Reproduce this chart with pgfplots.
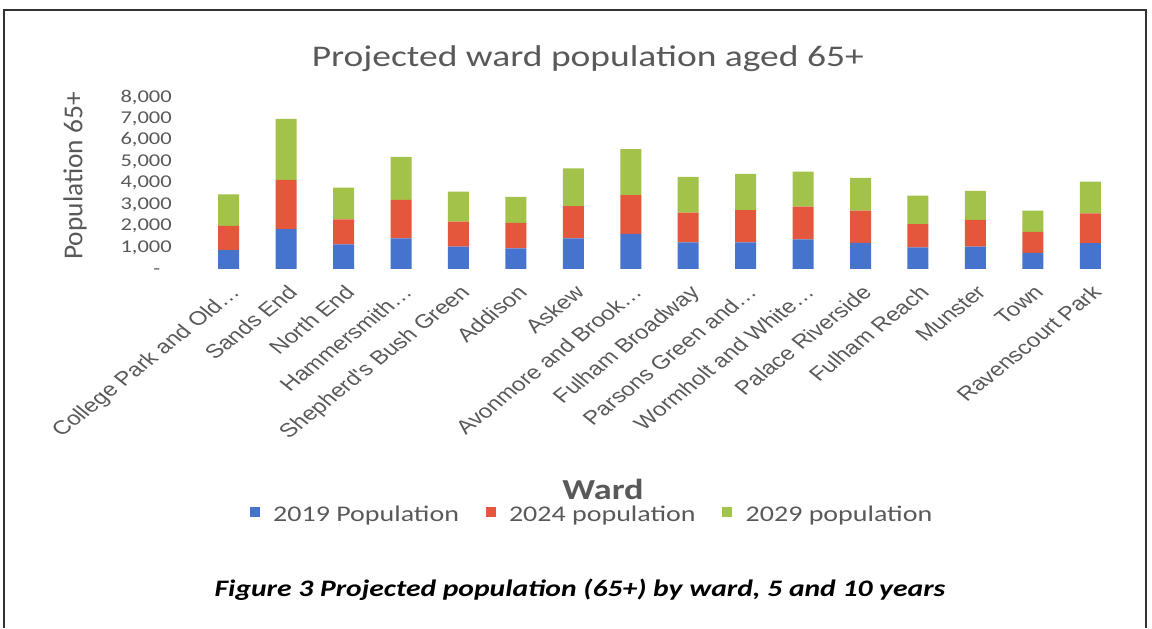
\documentclass[border=0pt]{standalone}
\usepackage{fontspec}
\setmainfont{Carlito}
\newfontfamily\calw[FakeStretch=1.25]{Carlito}
\newfontfamily\arialf{Liberation Sans}
\usepackage{pgfplots}
\pgfplotsset{compat=1.18}
\definecolor{c19}{HTML}{4673CD}
\definecolor{c24}{HTML}{E5573D}
\definecolor{c29}{HTML}{A2C24A}
\definecolor{txt}{HTML}{595959}

\begin{document}
\begin{tikzpicture}
\path[use as bounding box] (0,0) rectangle (864pt,471pt);
\begin{axis}[
  at={(150pt,269.25pt)}, anchor=south west,
  scale only axis, width=689.25pt, height=129pt,
  ybar stacked, bar width=15.75pt,
  xmin=-0.5, xmax=15.5, ymin=0, ymax=8000,
  axis line style={draw=none}, major tick length=0pt,
  xtick={0,...,15},
  xticklabels={College Park and Old…, Sands End, North End, Hammersmith…,
    Shepherd's Bush Green, Addison, Askew, Avonmore and Brook…, Fulham Broadway,
    Parsons Green and…, Wormholt and White…, Palace Riverside, Fulham Reach,
    Munster, Town, Ravenscourt Park},
  xticklabel style={yshift=-11pt, xscale=1.25, rotate=45, anchor=north east, inner sep=0pt,
    font=\arialf\fontsize{14.5pt}{16pt}\selectfont, text=txt},
  ytick={0,1000,...,8000},
  yticklabels={{-\phantom{0}},{1,000},{2,000},{3,000},{4,000},{5,000},{6,000},{7,000},{8,000}},
  yticklabel style={inner sep=0pt, xshift=-21pt, anchor=east,
    font=\calw\fontsize{13.5pt}{15pt}\selectfont, text=txt},
  title={Projected ward population aged 65+},
  every axis title/.style={at={(axis description cs:0.422,1.221)}, anchor=center,
    font=\calw\fontsize{22.5pt}{26pt}\selectfont, text=txt},
  ylabel={Population 65+},
  every axis y label/.style={at={(axis description cs:-0.136,0.541)}, rotate=90, anchor=center,
    font=\fontsize{20.5pt}{24pt}\selectfont, text=txt},
  xlabel={Ward},
  every axis x label/.style={at={(axis description cs:0.4385,-1.279)}, anchor=center,
    font=\calw\bfseries\fontsize{21.75pt}{25pt}\selectfont, text=txt},
  legend columns=3,
  legend image code/.code={\fill[#1] (0pt,-1.5pt) rectangle (7.5pt,6pt);},
  legend style={at={(axis description cs:0.427,-1.43)}, anchor=center, draw=none, fill=none,
    font=\calw\fontsize{16.8pt}{19pt}\selectfont, text=txt,
    /tikz/every odd column/.append style={column sep=8pt},
    /tikz/every even column/.append style={column sep=18pt}},
]
\addplot[fill=c19, draw=none] coordinates {
  (0,880) (1,1850) (2,1150) (3,1430) (4,1040) (5,960) (6,1430) (7,1630)
  (8,1240) (9,1240) (10,1380) (11,1210) (12,1010) (13,1040) (14,750) (15,1200)};
\addlegendentry{2019 Population}
\addplot[fill=c24, draw=none] coordinates {
  (0,1130) (1,2290) (2,1160) (3,1780) (4,1160) (5,1190) (6,1500) (7,1810)
  (8,1380) (9,1500) (10,1520) (11,1510) (12,1080) (13,1240) (14,980) (15,1390)};
\addlegendentry{2024 population}
\addplot[fill=c29, draw=none] coordinates {
  (0,1460) (1,2840) (2,1470) (3,2010) (4,1400) (5,1210) (6,1750) (7,2130)
  (8,1670) (9,1680) (10,1630) (11,1520) (12,1320) (13,1350) (14,990) (15,1470)};
\addlegendentry{2029 population}
\end{axis}
\begin{scope}[x=0.75pt, y=-0.75pt, yshift=471pt]
  \draw[line width=1.5pt, black!80] (4,628) -- (4,10) -- (1146,10) -- (1146,628);
  \node[font=\calw\bfseries\itshape\fontsize{17.75pt}{20pt}\selectfont, text=black]
    at (580,590) {Figure 3 Projected population (65+) by ward, 5 and 10 years};
\end{scope}
\end{tikzpicture}
\end{document}
